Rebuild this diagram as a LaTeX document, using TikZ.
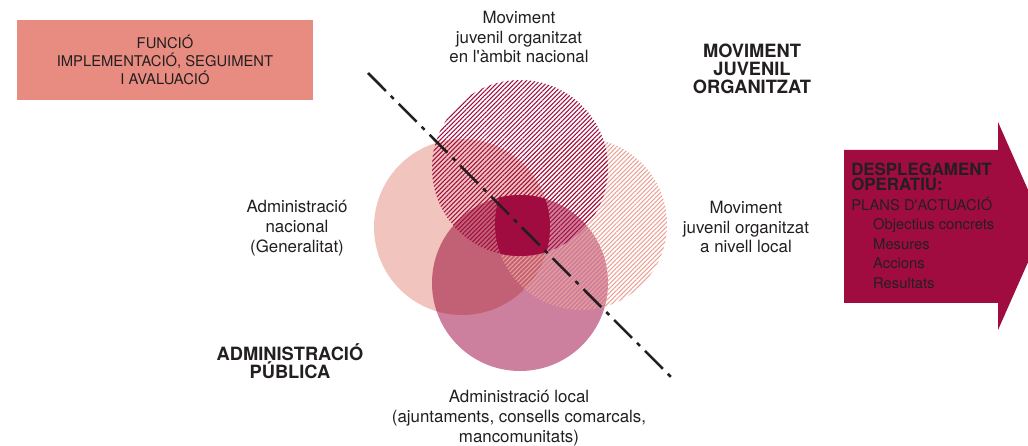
\documentclass[tikz,border=0pt]{standalone}
\usepackage{fontspec}
\setmainfont{TeX Gyre Heros}
\usetikzlibrary{patterns.meta}
\definecolor{ink}{HTML}{231F20}
\definecolor{crimson}{HTML}{A00C40}
\definecolor{nacpink}{HTML}{F2C4BE}
\definecolor{locmauve}{HTML}{CD7F9E}
\definecolor{salmon}{HTML}{EBA196}
\definecolor{boxsalmon}{HTML}{E88C82}

\begin{document}
\begin{tikzpicture}[x=0.025cm,y=-0.025cm,
  lbl/.style={align=center,inner sep=0pt,text=ink,font=\fontsize{12}{14.2}\selectfont},
  head/.style={align=center,inner sep=0pt,text=ink,font=\fontsize{13}{13}\selectfont\bfseries},
  hatch/.style={pattern={Lines[angle=45,distance=2.25pt,line width=0.75pt]}}]
\useasboundingbox (0,0) rectangle (1028,446);

\coordinate (cnac) at (462,227);
\coordinate (cloc) at (520,283);
\coordinate (cmjn) at (520,168);
\coordinate (cmjl) at (581,224);

\fill[nacpink] (cnac) circle[radius=88];
\fill[locmauve,blend mode=multiply] (cloc) circle[radius=88];
\fill[hatch,pattern color=salmon] (cmjl) circle[radius=86];
\fill[hatch,pattern color=crimson] (cmjn) circle[radius=88];
\begin{scope}
  \clip (cnac) circle[radius=88];
  \clip (cloc) circle[radius=88];
  \clip (cmjn) circle[radius=88];
  \fill[crimson] (cmjl) circle[radius=86];
\end{scope}

\coordinate (dtop) at (368,73);
\coordinate (dbot) at (672,378);
\draw[ink,line width=1.8pt,dash pattern=on 18pt off 5pt on 3pt off 5pt] (dtop) -- (dbot);

\node[fill=boxsalmon,minimum width=7.4cm,minimum height=2cm,align=center,text=ink,
  font=\fontsize{10.5}{12.8}\selectfont] (funcio) at (165,60)
  {FUNCIÓ\\IMPLEMENTACIÓ, SEGUIMENT\\I AVALUACIÓ};

\node[lbl] (mjnac) at (519,37) {Moviment\\juvenil organitzat\\en l\textquotesingle àmbit nacional};
\node[lbl] (mjloc) at (746,227) {Moviment\\juvenil organitzat\\a nivell local};
\node[lbl] (adnac) at (297,228) {Administració\\nacional\\(Generalitat)};
\node[lbl] (adloc) at (519,418) {Administració local\\(ajuntaments, consells comarcals,\\mancomunitats)};
\node[head] (mjo) at (752,69) {MOVIMENT\\JUVENIL\\ORGANITZAT};
\node[head] (adpub) at (290,361) {ADMINISTRACIÓ\\PÚBLICA};

\fill[crimson] (844,150) -- (998,150) -- (998,122) -- (1044,226) -- (998,330)
  -- (998,303) -- (844,303) -- cycle;
\node[anchor=north west,align=left,inner sep=0pt,text=ink,
  font=\fontsize{10.5}{13.9}\selectfont] (plans) at (851,163)
  {{\fontsize{12}{12}\selectfont\bfseries DESPLEGAMENT}\\[-3.4pt]
   {\fontsize{12}{12}\selectfont\bfseries OPERATIU:}\\
   PLANS D\textquotesingle ACTUACIÓ\\
   \hspace*{15.6pt}Objectius concrets\\
   \hspace*{15.6pt}Mesures\\
   \hspace*{15.6pt}Accions\\
   \hspace*{15.6pt}Resultats};
\end{tikzpicture}
\end{document}
